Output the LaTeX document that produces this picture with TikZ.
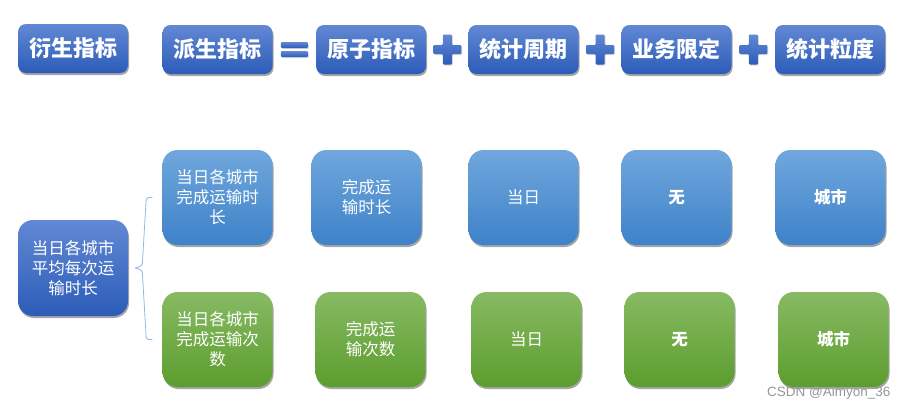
\documentclass[tikz,border=0pt]{standalone}
\usepackage{fontspec}
\newfontfamily\cjk{Noto Sans CJK SC}
\newfontfamily\wmfont{Liberation Sans}
\usepackage{tikz}
\usetikzlibrary{shadows,calc}
\definecolor{hdtop}{RGB}{98,136,212}
\definecolor{hdbot}{RGB}{44,92,184}
\definecolor{bltop}{RGB}{112,167,221}
\definecolor{blbot}{RGB}{62,130,200}
\definecolor{grtop}{RGB}{136,186,100}
\definecolor{grbot}{RGB}{92,157,46}
\definecolor{brkblue}{RGB}{150,185,225}
\definecolor{wmgray}{RGB}{150,150,150}

\begin{document}
\begin{tikzpicture}[
  x=1pt, y=-1pt,
  every node/.style={font=\cjk},
  card/.style={rounded corners=8pt, text=white, align=center,
               drop shadow={shadow xshift=1pt, shadow yshift=-2pt,
                            opacity=0.35, fill=black}},
  head/.style={card, minimum width=110pt, minimum height=49pt,
               top color=hdtop, bottom color=hdbot,
               font=\cjk\bfseries\fontsize{22}{26}\selectfont},
  cell/.style={card, rounded corners=15pt, minimum width=110pt,
               minimum height=95pt,
               font=\cjk\fontsize{16.5}{20}\selectfont},
  boldtxt/.style={font=\cjk\bfseries\fontsize{16.5}{20}\selectfont},
  bluecell/.style={cell, top color=bltop, bottom color=blbot},
  greencell/.style={cell, top color=grtop, bottom color=grbot}
]
\useasboundingbox (0,0) rectangle (910,410);

% header row
\node[head] (m0) at (73,48.5)  {衍生指标};
\node[head] (m1) at (217.5,49.5) {派生指标};
\node[head] (m2) at (371,49.5)   {原子指标};
\node[head] (m3) at (523.5,49.5) {统计周期};
\node[head] (m4) at (676.5,49.5) {业务限定};
\node[head] (m5) at (830,49.5)   {统计粒度};

% equals sign
\coordinate (eq) at ($(m1.east)!0.5!(m2.west)$);
\shade[top color=hdtop, bottom color=hdbot, rounded corners=1pt,
       drop shadow={shadow xshift=1pt, shadow yshift=-1pt, opacity=0.3}]
  ($(eq)+(-13.5,-7.5)$) rectangle ($(eq)+(13.5,-1.5)$);
\shade[top color=hdtop, bottom color=hdbot, rounded corners=1pt,
       drop shadow={shadow xshift=1pt, shadow yshift=-1pt, opacity=0.3}]
  ($(eq)+(-13.5,1.5)$) rectangle ($(eq)+(13.5,7.5)$);

% plus signs
\foreach \a/\b in {m2/m3,m3/m4,m4/m5}{
  \coordinate (pl) at ($(\a.east)!0.5!(\b.west)$);
  \shade[top color=hdtop, bottom color=hdbot, rounded corners=1pt,
         drop shadow={shadow xshift=1pt, shadow yshift=-1pt, opacity=0.3}]
    ($(pl)+(-4.5,-15)$) -- ($(pl)+(4.5,-15)$) -- ($(pl)+(4.5,-4.5)$)
    -- ($(pl)+(14,-4.5)$) -- ($(pl)+(14,4.5)$) -- ($(pl)+(4.5,4.5)$)
    -- ($(pl)+(4.5,15)$) -- ($(pl)+(-4.5,15)$) -- ($(pl)+(-4.5,4.5)$)
    -- ($(pl)+(-14,4.5)$) -- ($(pl)+(-14,-4.5)$) -- ($(pl)+(-4.5,-4.5)$)
    -- cycle;
}

% derived metric
\node[head, rounded corners=15pt, minimum height=96pt,
      font=\cjk\fontsize{16.5}{20}\selectfont]
  (d) at (73,268) {当日各城市\\平均每次运\\输时长};

% blue row
\node[bluecell] (b1) at (217.5,197.5) {当日各城市\\完成运输时\\长};
\node[bluecell] (b2) at (366.5,197.5) {完成运\\输时长};
\node[bluecell] (b3) at (523.5,197.5) {当日};
\node[bluecell,boldtxt] (b4) at (676.5,197.5) {无};
\node[bluecell,boldtxt] (b5) at (830.5,197.5) {城市};

% green row
\node[greencell] (g1) at (217.5,339.5) {当日各城市\\完成运输次\\数};
\node[greencell] (g2) at (370.5,339.5) {完成运\\输次数};
\node[greencell] (g3) at (526.5,339.5) {当日};
\node[greencell,boldtxt] (g4) at (679.5,339.5) {无};
\node[greencell,boldtxt] (g5) at (833.5,339.5) {城市};

% bracket
\coordinate (bt) at ($(b1.west)+(-16,0)$);
\coordinate (bb) at ($(g1.west)+(-16,0)$);
\coordinate (bm) at ($(d.east)+(7,0)$);
\draw[brkblue, line width=0.8pt, rounded corners=2pt]
  ($(bt)+(6,0)$) -- (bt) -- ($(bm)+(7,-2)$) -- (bm);
\draw[brkblue, line width=0.8pt, rounded corners=2pt]
  ($(bb)+(6,0)$) -- (bb) -- ($(bm)+(7,2)$) -- (bm);

% watermark
\node[font=\wmfont\fontsize{13.5}{16}\selectfont, text=wmgray, anchor=east]
  (wm) at (894,393) {CSDN @Aimyon\_36};
\end{tikzpicture}
\end{document}
